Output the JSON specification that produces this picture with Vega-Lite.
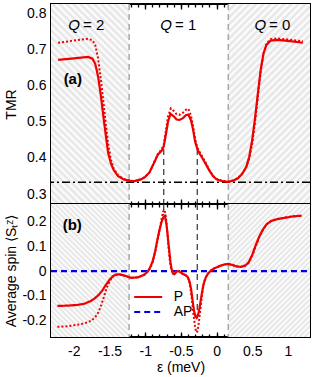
{
"$schema": "https://vega.github.io/schema/vega-lite/v6.json",
"padding": {"left": 3, "top": 2, "right": 2, "bottom": 2},
"spacing": 0,
"bounds": "flush",
"config": {
  "view": {"stroke": "black", "strokeWidth": 2},
  "font": "Liberation Sans",
  "axis": {"domain": false, "grid": false, "tickColor": "black", "tickWidth": 1.3, "labelFont": "Liberation Sans", "labelFontSize": 14, "labelColor": "black", "titleFont": "Liberation Sans", "titleFontSize": 14, "titleFontWeight": "normal", "titleColor": "black"},
  "text": {"font": "Liberation Sans", "color": "black"}
},
"datasets": {
  "tp": [{"e":-2.22,"v":0.671},{"e":-2.0,"v":0.675},{"e":-1.8,"v":0.679},{"e":-1.74,"v":0.674},{"e":-1.7,"v":0.66},{"e":-1.66,"v":0.625},{"e":-1.62,"v":0.57},{"e":-1.58,"v":0.505},{"e":-1.55,"v":0.46},{"e":-1.52,"v":0.415},{"e":-1.48,"v":0.385},{"e":-1.44,"v":0.366},{"e":-1.38,"v":0.35},{"e":-1.3,"v":0.341},{"e":-1.2,"v":0.336},{"e":-1.15,"v":0.336},{"e":-1.06,"v":0.341},{"e":-1.0,"v":0.348},{"e":-0.94,"v":0.36},{"e":-0.88,"v":0.385},{"e":-0.82,"v":0.41},{"e":-0.77,"v":0.42},{"e":-0.74,"v":0.432},{"e":-0.71,"v":0.465},{"e":-0.68,"v":0.5},{"e":-0.645,"v":0.522},{"e":-0.6,"v":0.515},{"e":-0.56,"v":0.506},{"e":-0.52,"v":0.505},{"e":-0.47,"v":0.51},{"e":-0.43,"v":0.518},{"e":-0.395,"v":0.52},{"e":-0.36,"v":0.505},{"e":-0.33,"v":0.48},{"e":-0.3,"v":0.445},{"e":-0.27,"v":0.425},{"e":-0.24,"v":0.413},{"e":-0.2,"v":0.4},{"e":-0.15,"v":0.383},{"e":-0.1,"v":0.365},{"e":-0.05,"v":0.35},{"e":0.0,"v":0.341},{"e":0.08,"v":0.336},{"e":0.16,"v":0.334},{"e":0.24,"v":0.338},{"e":0.3,"v":0.344},{"e":0.36,"v":0.356},{"e":0.42,"v":0.377},{"e":0.46,"v":0.405},{"e":0.5,"v":0.45},{"e":0.54,"v":0.51},{"e":0.58,"v":0.58},{"e":0.62,"v":0.645},{"e":0.66,"v":0.69},{"e":0.7,"v":0.712},{"e":0.76,"v":0.724},{"e":0.85,"v":0.726},{"e":1.0,"v":0.723},{"e":1.21,"v":0.718}],
  "td": [{"e":-2.22,"v":0.718},{"e":-2.0,"v":0.724},{"e":-1.8,"v":0.729},{"e":-1.74,"v":0.725},{"e":-1.7,"v":0.712},{"e":-1.66,"v":0.675},{"e":-1.62,"v":0.615},{"e":-1.58,"v":0.545},{"e":-1.55,"v":0.49},{"e":-1.52,"v":0.44},{"e":-1.48,"v":0.395},{"e":-1.44,"v":0.37},{"e":-1.38,"v":0.352},{"e":-1.3,"v":0.342},{"e":-1.2,"v":0.337},{"e":-1.15,"v":0.336},{"e":-1.06,"v":0.341},{"e":-1.0,"v":0.348},{"e":-0.94,"v":0.36},{"e":-0.88,"v":0.386},{"e":-0.82,"v":0.412},{"e":-0.77,"v":0.424},{"e":-0.74,"v":0.436},{"e":-0.71,"v":0.475},{"e":-0.68,"v":0.515},{"e":-0.64,"v":0.537},{"e":-0.6,"v":0.53},{"e":-0.56,"v":0.521},{"e":-0.52,"v":0.519},{"e":-0.47,"v":0.525},{"e":-0.43,"v":0.533},{"e":-0.395,"v":0.536},{"e":-0.36,"v":0.518},{"e":-0.33,"v":0.49},{"e":-0.3,"v":0.452},{"e":-0.27,"v":0.43},{"e":-0.24,"v":0.418},{"e":-0.2,"v":0.404},{"e":-0.15,"v":0.386},{"e":-0.1,"v":0.367},{"e":-0.05,"v":0.351},{"e":0.0,"v":0.342},{"e":0.08,"v":0.337},{"e":0.16,"v":0.335},{"e":0.24,"v":0.339},{"e":0.3,"v":0.345},{"e":0.36,"v":0.357},{"e":0.42,"v":0.376},{"e":0.46,"v":0.4},{"e":0.5,"v":0.44},{"e":0.54,"v":0.5},{"e":0.58,"v":0.57},{"e":0.62,"v":0.64},{"e":0.66,"v":0.69},{"e":0.7,"v":0.716},{"e":0.76,"v":0.728},{"e":0.85,"v":0.73},{"e":1.0,"v":0.727},{"e":1.21,"v":0.722}],
  "sp": [{"e":-2.23,"v":-0.14},{"e":-2.1,"v":-0.139},{"e":-1.95,"v":-0.136},{"e":-1.85,"v":-0.131},{"e":-1.76,"v":-0.12},{"e":-1.7,"v":-0.108},{"e":-1.65,"v":-0.095},{"e":-1.6,"v":-0.078},{"e":-1.55,"v":-0.055},{"e":-1.5,"v":-0.035},{"e":-1.45,"v":-0.02},{"e":-1.41,"v":-0.014},{"e":-1.36,"v":-0.013},{"e":-1.3,"v":-0.017},{"e":-1.2,"v":-0.027},{"e":-1.1,"v":-0.025},{"e":-1.01,"v":-0.014},{"e":-0.96,"v":0.0},{"e":-0.93,"v":0.015},{"e":-0.895,"v":0.04},{"e":-0.86,"v":0.08},{"e":-0.83,"v":0.125},{"e":-0.8,"v":0.165},{"e":-0.77,"v":0.198},{"e":-0.745,"v":0.217},{"e":-0.725,"v":0.222},{"e":-0.705,"v":0.195},{"e":-0.69,"v":0.16},{"e":-0.675,"v":0.115},{"e":-0.66,"v":0.075},{"e":-0.645,"v":0.035},{"e":-0.63,"v":0.008},{"e":-0.61,"v":-0.01},{"e":-0.59,"v":-0.012},{"e":-0.56,"v":-0.002},{"e":-0.53,"v":0.0},{"e":-0.5,"v":-0.006},{"e":-0.47,"v":-0.012},{"e":-0.43,"v":-0.016},{"e":-0.4,"v":-0.025},{"e":-0.375,"v":-0.045},{"e":-0.355,"v":-0.075},{"e":-0.335,"v":-0.12},{"e":-0.315,"v":-0.16},{"e":-0.295,"v":-0.183},{"e":-0.278,"v":-0.188},{"e":-0.26,"v":-0.178},{"e":-0.24,"v":-0.15},{"e":-0.22,"v":-0.115},{"e":-0.2,"v":-0.08},{"e":-0.18,"v":-0.05},{"e":-0.15,"v":-0.025},{"e":-0.12,"v":-0.01},{"e":-0.08,"v":0.002},{"e":-0.04,"v":0.01},{"e":0.04,"v":0.02},{"e":0.1,"v":0.026},{"e":0.16,"v":0.029},{"e":0.22,"v":0.025},{"e":0.28,"v":0.019},{"e":0.34,"v":0.017},{"e":0.4,"v":0.022},{"e":0.45,"v":0.035},{"e":0.5,"v":0.065},{"e":0.55,"v":0.105},{"e":0.6,"v":0.14},{"e":0.65,"v":0.167},{"e":0.7,"v":0.188},{"e":0.77,"v":0.202},{"e":0.85,"v":0.209},{"e":0.95,"v":0.214},{"e":1.05,"v":0.219},{"e":1.19,"v":0.223}],
  "sd": [{"e":-2.23,"v":-0.224},{"e":-2.1,"v":-0.222},{"e":-1.95,"v":-0.216},{"e":-1.85,"v":-0.21},{"e":-1.76,"v":-0.2},{"e":-1.7,"v":-0.185},{"e":-1.66,"v":-0.168},{"e":-1.62,"v":-0.14},{"e":-1.58,"v":-0.105},{"e":-1.54,"v":-0.068},{"e":-1.5,"v":-0.042},{"e":-1.46,"v":-0.022},{"e":-1.41,"v":-0.015},{"e":-1.36,"v":-0.014},{"e":-1.3,"v":-0.018},{"e":-1.2,"v":-0.027},{"e":-1.1,"v":-0.025},{"e":-1.01,"v":-0.014},{"e":-0.96,"v":0.0},{"e":-0.93,"v":0.012},{"e":-0.895,"v":0.035},{"e":-0.86,"v":0.075},{"e":-0.83,"v":0.12},{"e":-0.8,"v":0.165},{"e":-0.77,"v":0.21},{"e":-0.75,"v":0.238},{"e":-0.73,"v":0.247},{"e":-0.71,"v":0.22},{"e":-0.695,"v":0.175},{"e":-0.68,"v":0.12},{"e":-0.665,"v":0.07},{"e":-0.65,"v":0.03},{"e":-0.635,"v":0.008},{"e":-0.61,"v":-0.005},{"e":-0.58,"v":-0.003},{"e":-0.55,"v":0.003},{"e":-0.52,"v":0.0},{"e":-0.49,"v":-0.008},{"e":-0.45,"v":-0.014},{"e":-0.41,"v":-0.022},{"e":-0.385,"v":-0.04},{"e":-0.365,"v":-0.07},{"e":-0.345,"v":-0.115},{"e":-0.325,"v":-0.17},{"e":-0.305,"v":-0.215},{"e":-0.29,"v":-0.24},{"e":-0.278,"v":-0.247},{"e":-0.265,"v":-0.24},{"e":-0.245,"v":-0.2},{"e":-0.225,"v":-0.15},{"e":-0.205,"v":-0.1},{"e":-0.185,"v":-0.06},{"e":-0.16,"v":-0.03},{"e":-0.12,"v":-0.01},{"e":-0.08,"v":0.002},{"e":-0.04,"v":0.01},{"e":0.04,"v":0.02},{"e":0.1,"v":0.026},{"e":0.16,"v":0.029},{"e":0.22,"v":0.025},{"e":0.28,"v":0.019},{"e":0.34,"v":0.017},{"e":0.4,"v":0.022},{"e":0.45,"v":0.034},{"e":0.5,"v":0.062},{"e":0.55,"v":0.1},{"e":0.6,"v":0.137},{"e":0.65,"v":0.166},{"e":0.7,"v":0.188},{"e":0.77,"v":0.203},{"e":0.85,"v":0.21},{"e":0.95,"v":0.215},{"e":1.05,"v":0.22},{"e":1.19,"v":0.224}],
  "hl": [{"a":-2.32,"b":-1.225}],
  "hr": [{"a":0.165,"b":1.31}],
  "gv": [{"e":-1.225},{"e":0.165}]
},
"resolve": {"legend": {"color": "independent", "strokeDash": "independent"}},
"vconcat": [
{
  "width": 259, "height": 200,
  "resolve": {"axis": {"x": "independent", "y": "independent"}},
  "layer": [
    {"data": {"name": "hl"}, "mark": {"type": "rect", "strokeWidth": 0, "fill": {"gradient": "linear", "x1": 0, "y1": 1, "x2": 0.4705, "y2": -0.2065, "stops": [{"offset":0,"color":"#e3e3e3"},{"offset":0.0125,"color":"#fff"},{"offset":0.025,"color":"#e3e3e3"},{"offset":0.0375,"color":"#fff"},{"offset":0.05,"color":"#e3e3e3"},{"offset":0.0625,"color":"#fff"},{"offset":0.075,"color":"#e3e3e3"},{"offset":0.0875,"color":"#fff"},{"offset":0.1,"color":"#e3e3e3"},{"offset":0.1125,"color":"#fff"},{"offset":0.125,"color":"#e3e3e3"},{"offset":0.1375,"color":"#fff"},{"offset":0.15,"color":"#e3e3e3"},{"offset":0.1625,"color":"#fff"},{"offset":0.175,"color":"#e3e3e3"},{"offset":0.1875,"color":"#fff"},{"offset":0.2,"color":"#e3e3e3"},{"offset":0.2125,"color":"#fff"},{"offset":0.225,"color":"#e3e3e3"},{"offset":0.2375,"color":"#fff"},{"offset":0.25,"color":"#e3e3e3"},{"offset":0.2625,"color":"#fff"},{"offset":0.275,"color":"#e3e3e3"},{"offset":0.2875,"color":"#fff"},{"offset":0.3,"color":"#e3e3e3"},{"offset":0.3125,"color":"#fff"},{"offset":0.325,"color":"#e3e3e3"},{"offset":0.3375,"color":"#fff"},{"offset":0.35,"color":"#e3e3e3"},{"offset":0.3625,"color":"#fff"},{"offset":0.375,"color":"#e3e3e3"},{"offset":0.3875,"color":"#fff"},{"offset":0.4,"color":"#e3e3e3"},{"offset":0.4125,"color":"#fff"},{"offset":0.425,"color":"#e3e3e3"},{"offset":0.4375,"color":"#fff"},{"offset":0.45,"color":"#e3e3e3"},{"offset":0.4625,"color":"#fff"},{"offset":0.475,"color":"#e3e3e3"},{"offset":0.4875,"color":"#fff"},{"offset":0.5,"color":"#e3e3e3"},{"offset":0.5125,"color":"#fff"},{"offset":0.525,"color":"#e3e3e3"},{"offset":0.5375,"color":"#fff"},{"offset":0.55,"color":"#e3e3e3"},{"offset":0.5625,"color":"#fff"},{"offset":0.575,"color":"#e3e3e3"},{"offset":0.5875,"color":"#fff"},{"offset":0.6,"color":"#e3e3e3"},{"offset":0.6125,"color":"#fff"},{"offset":0.625,"color":"#e3e3e3"},{"offset":0.6375,"color":"#fff"},{"offset":0.65,"color":"#e3e3e3"},{"offset":0.6625,"color":"#fff"},{"offset":0.675,"color":"#e3e3e3"},{"offset":0.6875,"color":"#fff"},{"offset":0.7,"color":"#e3e3e3"},{"offset":0.7125,"color":"#fff"},{"offset":0.725,"color":"#e3e3e3"},{"offset":0.7375,"color":"#fff"},{"offset":0.75,"color":"#e3e3e3"},{"offset":0.7625,"color":"#fff"},{"offset":0.775,"color":"#e3e3e3"},{"offset":0.7875,"color":"#fff"},{"offset":0.8,"color":"#e3e3e3"},{"offset":0.8125,"color":"#fff"},{"offset":0.825,"color":"#e3e3e3"},{"offset":0.8375,"color":"#fff"},{"offset":0.85,"color":"#e3e3e3"},{"offset":0.8625,"color":"#fff"},{"offset":0.875,"color":"#e3e3e3"},{"offset":0.8875,"color":"#fff"},{"offset":0.9,"color":"#e3e3e3"},{"offset":0.9125,"color":"#fff"},{"offset":0.925,"color":"#e3e3e3"},{"offset":0.9375,"color":"#fff"},{"offset":0.95,"color":"#e3e3e3"},{"offset":0.9625,"color":"#fff"},{"offset":0.975,"color":"#e3e3e3"},{"offset":0.9875,"color":"#fff"},{"offset":1,"color":"#e3e3e3"}]}},
     "encoding": {"x": {"field": "a", "type": "quantitative", "scale": {"domain": [-2.32, 1.31], "nice": false, "zero": false}, "axis": null}, "x2": {"field": "b"}}},
    {"data": {"name": "hr"}, "mark": {"type": "rect", "strokeWidth": 0, "fill": {"gradient": "linear", "x1": 0, "y1": 0, "x2": 0.4949, "y2": 1.2071, "stops": [{"offset":0,"color":"#e3e3e3"},{"offset":0.0125,"color":"#fff"},{"offset":0.025,"color":"#e3e3e3"},{"offset":0.0375,"color":"#fff"},{"offset":0.05,"color":"#e3e3e3"},{"offset":0.0625,"color":"#fff"},{"offset":0.075,"color":"#e3e3e3"},{"offset":0.0875,"color":"#fff"},{"offset":0.1,"color":"#e3e3e3"},{"offset":0.1125,"color":"#fff"},{"offset":0.125,"color":"#e3e3e3"},{"offset":0.1375,"color":"#fff"},{"offset":0.15,"color":"#e3e3e3"},{"offset":0.1625,"color":"#fff"},{"offset":0.175,"color":"#e3e3e3"},{"offset":0.1875,"color":"#fff"},{"offset":0.2,"color":"#e3e3e3"},{"offset":0.2125,"color":"#fff"},{"offset":0.225,"color":"#e3e3e3"},{"offset":0.2375,"color":"#fff"},{"offset":0.25,"color":"#e3e3e3"},{"offset":0.2625,"color":"#fff"},{"offset":0.275,"color":"#e3e3e3"},{"offset":0.2875,"color":"#fff"},{"offset":0.3,"color":"#e3e3e3"},{"offset":0.3125,"color":"#fff"},{"offset":0.325,"color":"#e3e3e3"},{"offset":0.3375,"color":"#fff"},{"offset":0.35,"color":"#e3e3e3"},{"offset":0.3625,"color":"#fff"},{"offset":0.375,"color":"#e3e3e3"},{"offset":0.3875,"color":"#fff"},{"offset":0.4,"color":"#e3e3e3"},{"offset":0.4125,"color":"#fff"},{"offset":0.425,"color":"#e3e3e3"},{"offset":0.4375,"color":"#fff"},{"offset":0.45,"color":"#e3e3e3"},{"offset":0.4625,"color":"#fff"},{"offset":0.475,"color":"#e3e3e3"},{"offset":0.4875,"color":"#fff"},{"offset":0.5,"color":"#e3e3e3"},{"offset":0.5125,"color":"#fff"},{"offset":0.525,"color":"#e3e3e3"},{"offset":0.5375,"color":"#fff"},{"offset":0.55,"color":"#e3e3e3"},{"offset":0.5625,"color":"#fff"},{"offset":0.575,"color":"#e3e3e3"},{"offset":0.5875,"color":"#fff"},{"offset":0.6,"color":"#e3e3e3"},{"offset":0.6125,"color":"#fff"},{"offset":0.625,"color":"#e3e3e3"},{"offset":0.6375,"color":"#fff"},{"offset":0.65,"color":"#e3e3e3"},{"offset":0.6625,"color":"#fff"},{"offset":0.675,"color":"#e3e3e3"},{"offset":0.6875,"color":"#fff"},{"offset":0.7,"color":"#e3e3e3"},{"offset":0.7125,"color":"#fff"},{"offset":0.725,"color":"#e3e3e3"},{"offset":0.7375,"color":"#fff"},{"offset":0.75,"color":"#e3e3e3"},{"offset":0.7625,"color":"#fff"},{"offset":0.775,"color":"#e3e3e3"},{"offset":0.7875,"color":"#fff"},{"offset":0.8,"color":"#e3e3e3"},{"offset":0.8125,"color":"#fff"},{"offset":0.825,"color":"#e3e3e3"},{"offset":0.8375,"color":"#fff"},{"offset":0.85,"color":"#e3e3e3"},{"offset":0.8625,"color":"#fff"},{"offset":0.875,"color":"#e3e3e3"},{"offset":0.8875,"color":"#fff"},{"offset":0.9,"color":"#e3e3e3"},{"offset":0.9125,"color":"#fff"},{"offset":0.925,"color":"#e3e3e3"},{"offset":0.9375,"color":"#fff"},{"offset":0.95,"color":"#e3e3e3"},{"offset":0.9625,"color":"#fff"},{"offset":0.975,"color":"#e3e3e3"},{"offset":0.9875,"color":"#fff"},{"offset":1,"color":"#e3e3e3"}]}},
     "encoding": {"x": {"field": "a", "type": "quantitative", "scale": {"domain": [-2.32, 1.31], "nice": false, "zero": false}, "axis": null}, "x2": {"field": "b"}}},
    {"data": {"name": "gv"}, "mark": {"type": "rule", "color": "#a8a8a8", "strokeWidth": 1.5, "strokeDash": [6, 4]},
     "encoding": {"x": {"field": "e", "type": "quantitative", "scale": {"domain": [-2.32, 1.31], "nice": false, "zero": false}, "axis": null}}},
    {"data": {"values": [{"e": -0.74, "y1": 0.27, "y2": 0.432}, {"e": -0.27, "y1": 0.27, "y2": 0.425}]}, "mark": {"type": "rule", "color": "#333", "strokeWidth": 1.2, "strokeDash": [6, 4]},
     "encoding": {"x": {"field": "e", "type": "quantitative", "scale": {"domain": [-2.32, 1.31], "nice": false, "zero": false}, "axis": null}, "y": {"field": "y1", "type": "quantitative", "scale": {"domain": [0.273, 0.825], "nice": false, "zero": false}, "axis": null}, "y2": {"field": "y2"}}},
    {"data": {"values": [{"v": 0.3333}]}, "mark": {"type": "rule", "color": "black", "strokeWidth": 1.5, "strokeDash": [8, 3, 2, 3]},
     "encoding": {"y": {"field": "v", "type": "quantitative", "scale": {"domain": [0.273, 0.825], "nice": false, "zero": false}, "axis": null}}},
    {"data": {"name": "td"}, "mark": {"type": "line", "color": "#ee0000", "strokeWidth": 2, "strokeDash": [2, 2], "clip": true},
     "encoding": {"x": {"field": "e", "type": "quantitative", "scale": {"domain": [-2.32, 1.31], "nice": false, "zero": false}, "axis": {"orient": "bottom", "values": [-2.3,-2.2,-2.1,-2,-1.9,-1.8,-1.7,-1.6,-1.5,-1.4,-1.3,-1.2,-1.1,-1,-0.9,-0.8,-0.7,-0.6,-0.5,-0.4,-0.3,-0.2,-0.1,0,0.1,0.2,0.3,0.4,0.5,0.6,0.7,0.8,0.9,1,1.1,1.2,1.3], "labels": false, "tickSize": -3, "title": null}},
                  "y": {"field": "v", "type": "quantitative", "scale": {"domain": [0.273, 0.825], "nice": false, "zero": false}, "axis": {"orient": "left", "values": [0.3,0.35,0.4,0.45,0.5,0.55,0.6,0.65,0.7,0.75,0.8], "labels": false, "tickSize": -3, "title": null}}}},
    {"data": {"name": "tp"}, "mark": {"type": "line", "color": "#ee0000", "strokeWidth": 2.2, "clip": true},
     "encoding": {"x": {"field": "e", "type": "quantitative", "scale": {"domain": [-2.32, 1.31], "nice": false, "zero": false}, "axis": {"orient": "bottom", "values": [-2,-1.5,-1,-0.5,0,0.5,1], "labels": false, "tickSize": -5, "title": null}},
                  "y": {"field": "v", "type": "quantitative", "scale": {"domain": [0.273, 0.825], "nice": false, "zero": false}, "axis": {"orient": "left", "values": [0.3,0.4,0.5,0.6,0.7,0.8], "tickSize": -5, "labelPadding": 10, "labelExpr": "replace(format(datum.value, '~g'), '\u2212', '-')", "title": "TMR", "titleX": -35.5, "titleBaseline": "alphabetic"}}}},
    {"data": {"values": [{"e": -2.143, "v": 0.619, "t": "(a)"}]}, "mark": {"type": "text", "align": "left", "baseline": "middle", "fontSize": 15, "fontWeight": "bold"},
     "encoding": {"x": {"field": "e", "type": "quantitative", "scale": {"domain": [-2.32, 1.31], "nice": false, "zero": false}, "axis": null}, "y": {"field": "v", "type": "quantitative", "scale": {"domain": [0.273, 0.825], "nice": false, "zero": false}, "axis": null}, "text": {"field": "t"}}},
    {"data": {"values": [{"e": -1.914, "v": 0.767, "q": "Q"}, {"e": -0.624, "v": 0.767, "q": "Q"}, {"e": 0.694, "v": 0.767, "q": "Q"}]}, "mark": {"type": "text", "align": "right", "baseline": "middle", "fontSize": 15, "fontStyle": "italic"},
     "encoding": {"x": {"field": "e", "type": "quantitative", "scale": {"domain": [-2.32, 1.31], "nice": false, "zero": false}, "axis": {"orient": "top", "values": [-2,-1.5,-1,-0.5,0,0.5,1], "labels": false, "tickSize": -5, "title": null}},
                  "y": {"field": "v", "type": "quantitative", "scale": {"domain": [0.273, 0.825], "nice": false, "zero": false}, "axis": {"orient": "right", "values": [0.3,0.4,0.5,0.6,0.7,0.8], "labels": false, "tickSize": -5, "title": null}}, "text": {"field": "q"}}},
    {"data": {"values": [{"e": -1.914, "v": 0.767, "n": "= 2"}, {"e": -0.624, "v": 0.767, "n": "= 1"}, {"e": 0.694, "v": 0.767, "n": "= 0"}]}, "mark": {"type": "text", "align": "left", "baseline": "middle", "fontSize": 15, "dx": 3},
     "encoding": {"x": {"field": "e", "type": "quantitative", "scale": {"domain": [-2.32, 1.31], "nice": false, "zero": false}, "axis": {"orient": "top", "values": [-2.3,-2.2,-2.1,-2,-1.9,-1.8,-1.7,-1.6,-1.5,-1.4,-1.3,-1.2,-1.1,-1,-0.9,-0.8,-0.7,-0.6,-0.5,-0.4,-0.3,-0.2,-0.1,0,0.1,0.2,0.3,0.4,0.5,0.6,0.7,0.8,0.9,1,1.1,1.2,1.3], "labels": false, "tickSize": -3, "title": null}},
                  "y": {"field": "v", "type": "quantitative", "scale": {"domain": [0.273, 0.825], "nice": false, "zero": false}, "axis": {"orient": "right", "values": [0.3,0.35,0.4,0.45,0.5,0.55,0.6,0.65,0.7,0.75,0.8], "labels": false, "tickSize": -3, "title": null}}, "text": {"field": "n"}}}
  ]
},
{
  "width": 259, "height": 133,
  "resolve": {"axis": {"x": "independent", "y": "independent"}},
  "layer": [
    {"data": {"name": "hl"}, "mark": {"type": "rect", "strokeWidth": 0, "fill": {"gradient": "linear", "x1": 0, "y1": 1, "x2": 0.6923, "y2": -0.1805, "stops": [{"offset":0,"color":"#e3e3e3"},{"offset":0.0125,"color":"#fff"},{"offset":0.025,"color":"#e3e3e3"},{"offset":0.0375,"color":"#fff"},{"offset":0.05,"color":"#e3e3e3"},{"offset":0.0625,"color":"#fff"},{"offset":0.075,"color":"#e3e3e3"},{"offset":0.0875,"color":"#fff"},{"offset":0.1,"color":"#e3e3e3"},{"offset":0.1125,"color":"#fff"},{"offset":0.125,"color":"#e3e3e3"},{"offset":0.1375,"color":"#fff"},{"offset":0.15,"color":"#e3e3e3"},{"offset":0.1625,"color":"#fff"},{"offset":0.175,"color":"#e3e3e3"},{"offset":0.1875,"color":"#fff"},{"offset":0.2,"color":"#e3e3e3"},{"offset":0.2125,"color":"#fff"},{"offset":0.225,"color":"#e3e3e3"},{"offset":0.2375,"color":"#fff"},{"offset":0.25,"color":"#e3e3e3"},{"offset":0.2625,"color":"#fff"},{"offset":0.275,"color":"#e3e3e3"},{"offset":0.2875,"color":"#fff"},{"offset":0.3,"color":"#e3e3e3"},{"offset":0.3125,"color":"#fff"},{"offset":0.325,"color":"#e3e3e3"},{"offset":0.3375,"color":"#fff"},{"offset":0.35,"color":"#e3e3e3"},{"offset":0.3625,"color":"#fff"},{"offset":0.375,"color":"#e3e3e3"},{"offset":0.3875,"color":"#fff"},{"offset":0.4,"color":"#e3e3e3"},{"offset":0.4125,"color":"#fff"},{"offset":0.425,"color":"#e3e3e3"},{"offset":0.4375,"color":"#fff"},{"offset":0.45,"color":"#e3e3e3"},{"offset":0.4625,"color":"#fff"},{"offset":0.475,"color":"#e3e3e3"},{"offset":0.4875,"color":"#fff"},{"offset":0.5,"color":"#e3e3e3"},{"offset":0.5125,"color":"#fff"},{"offset":0.525,"color":"#e3e3e3"},{"offset":0.5375,"color":"#fff"},{"offset":0.55,"color":"#e3e3e3"},{"offset":0.5625,"color":"#fff"},{"offset":0.575,"color":"#e3e3e3"},{"offset":0.5875,"color":"#fff"},{"offset":0.6,"color":"#e3e3e3"},{"offset":0.6125,"color":"#fff"},{"offset":0.625,"color":"#e3e3e3"},{"offset":0.6375,"color":"#fff"},{"offset":0.65,"color":"#e3e3e3"},{"offset":0.6625,"color":"#fff"},{"offset":0.675,"color":"#e3e3e3"},{"offset":0.6875,"color":"#fff"},{"offset":0.7,"color":"#e3e3e3"},{"offset":0.7125,"color":"#fff"},{"offset":0.725,"color":"#e3e3e3"},{"offset":0.7375,"color":"#fff"},{"offset":0.75,"color":"#e3e3e3"},{"offset":0.7625,"color":"#fff"},{"offset":0.775,"color":"#e3e3e3"},{"offset":0.7875,"color":"#fff"},{"offset":0.8,"color":"#e3e3e3"},{"offset":0.8125,"color":"#fff"},{"offset":0.825,"color":"#e3e3e3"},{"offset":0.8375,"color":"#fff"},{"offset":0.85,"color":"#e3e3e3"},{"offset":0.8625,"color":"#fff"},{"offset":0.875,"color":"#e3e3e3"},{"offset":0.8875,"color":"#fff"},{"offset":0.9,"color":"#e3e3e3"},{"offset":0.9125,"color":"#fff"},{"offset":0.925,"color":"#e3e3e3"},{"offset":0.9375,"color":"#fff"},{"offset":0.95,"color":"#e3e3e3"},{"offset":0.9625,"color":"#fff"},{"offset":0.975,"color":"#e3e3e3"},{"offset":0.9875,"color":"#fff"},{"offset":1,"color":"#e3e3e3"}]}},
     "encoding": {"x": {"field": "a", "type": "quantitative", "scale": {"domain": [-2.32, 1.31], "nice": false, "zero": false}, "axis": null}, "x2": {"field": "b"}}},
    {"data": {"name": "hr"}, "mark": {"type": "rect", "strokeWidth": 0, "fill": {"gradient": "linear", "x1": 0, "y1": 0, "x2": 0.7222, "y2": 1.1713, "stops": [{"offset":0,"color":"#e3e3e3"},{"offset":0.0125,"color":"#fff"},{"offset":0.025,"color":"#e3e3e3"},{"offset":0.0375,"color":"#fff"},{"offset":0.05,"color":"#e3e3e3"},{"offset":0.0625,"color":"#fff"},{"offset":0.075,"color":"#e3e3e3"},{"offset":0.0875,"color":"#fff"},{"offset":0.1,"color":"#e3e3e3"},{"offset":0.1125,"color":"#fff"},{"offset":0.125,"color":"#e3e3e3"},{"offset":0.1375,"color":"#fff"},{"offset":0.15,"color":"#e3e3e3"},{"offset":0.1625,"color":"#fff"},{"offset":0.175,"color":"#e3e3e3"},{"offset":0.1875,"color":"#fff"},{"offset":0.2,"color":"#e3e3e3"},{"offset":0.2125,"color":"#fff"},{"offset":0.225,"color":"#e3e3e3"},{"offset":0.2375,"color":"#fff"},{"offset":0.25,"color":"#e3e3e3"},{"offset":0.2625,"color":"#fff"},{"offset":0.275,"color":"#e3e3e3"},{"offset":0.2875,"color":"#fff"},{"offset":0.3,"color":"#e3e3e3"},{"offset":0.3125,"color":"#fff"},{"offset":0.325,"color":"#e3e3e3"},{"offset":0.3375,"color":"#fff"},{"offset":0.35,"color":"#e3e3e3"},{"offset":0.3625,"color":"#fff"},{"offset":0.375,"color":"#e3e3e3"},{"offset":0.3875,"color":"#fff"},{"offset":0.4,"color":"#e3e3e3"},{"offset":0.4125,"color":"#fff"},{"offset":0.425,"color":"#e3e3e3"},{"offset":0.4375,"color":"#fff"},{"offset":0.45,"color":"#e3e3e3"},{"offset":0.4625,"color":"#fff"},{"offset":0.475,"color":"#e3e3e3"},{"offset":0.4875,"color":"#fff"},{"offset":0.5,"color":"#e3e3e3"},{"offset":0.5125,"color":"#fff"},{"offset":0.525,"color":"#e3e3e3"},{"offset":0.5375,"color":"#fff"},{"offset":0.55,"color":"#e3e3e3"},{"offset":0.5625,"color":"#fff"},{"offset":0.575,"color":"#e3e3e3"},{"offset":0.5875,"color":"#fff"},{"offset":0.6,"color":"#e3e3e3"},{"offset":0.6125,"color":"#fff"},{"offset":0.625,"color":"#e3e3e3"},{"offset":0.6375,"color":"#fff"},{"offset":0.65,"color":"#e3e3e3"},{"offset":0.6625,"color":"#fff"},{"offset":0.675,"color":"#e3e3e3"},{"offset":0.6875,"color":"#fff"},{"offset":0.7,"color":"#e3e3e3"},{"offset":0.7125,"color":"#fff"},{"offset":0.725,"color":"#e3e3e3"},{"offset":0.7375,"color":"#fff"},{"offset":0.75,"color":"#e3e3e3"},{"offset":0.7625,"color":"#fff"},{"offset":0.775,"color":"#e3e3e3"},{"offset":0.7875,"color":"#fff"},{"offset":0.8,"color":"#e3e3e3"},{"offset":0.8125,"color":"#fff"},{"offset":0.825,"color":"#e3e3e3"},{"offset":0.8375,"color":"#fff"},{"offset":0.85,"color":"#e3e3e3"},{"offset":0.8625,"color":"#fff"},{"offset":0.875,"color":"#e3e3e3"},{"offset":0.8875,"color":"#fff"},{"offset":0.9,"color":"#e3e3e3"},{"offset":0.9125,"color":"#fff"},{"offset":0.925,"color":"#e3e3e3"},{"offset":0.9375,"color":"#fff"},{"offset":0.95,"color":"#e3e3e3"},{"offset":0.9625,"color":"#fff"},{"offset":0.975,"color":"#e3e3e3"},{"offset":0.9875,"color":"#fff"},{"offset":1,"color":"#e3e3e3"}]}},
     "encoding": {"x": {"field": "a", "type": "quantitative", "scale": {"domain": [-2.32, 1.31], "nice": false, "zero": false}, "axis": null}, "x2": {"field": "b"}}},
    {"data": {"name": "gv"}, "mark": {"type": "rule", "color": "#a8a8a8", "strokeWidth": 1.5, "strokeDash": [6, 4]},
     "encoding": {"x": {"field": "e", "type": "quantitative", "scale": {"domain": [-2.32, 1.31], "nice": false, "zero": false}, "axis": null}}},
    {"data": {"values": [{"e": -0.74, "y1": 0.27, "y2": 0.225}, {"e": -0.27, "y1": 0.27, "y2": -0.19}]}, "mark": {"type": "rule", "color": "#333", "strokeWidth": 1.2, "strokeDash": [6, 4]},
     "encoding": {"x": {"field": "e", "type": "quantitative", "scale": {"domain": [-2.32, 1.31], "nice": false, "zero": false}, "axis": {"orient": "top", "values": [-2.3,-2.2,-2.1,-2,-1.9,-1.8,-1.7,-1.6,-1.5,-1.4,-1.3,-1.2,-1.1,-1,-0.9,-0.8,-0.7,-0.6,-0.5,-0.4,-0.3,-0.2,-0.1,0,0.1,0.2,0.3,0.4,0.5,0.6,0.7,0.8,0.9,1,1.1,1.2,1.3], "labels": false, "tickSize": -3, "title": null}},
                  "y": {"field": "y1", "type": "quantitative", "scale": {"domain": [-0.265, 0.27], "nice": false, "zero": false}, "axis": {"orient": "right", "values": [-0.25,-0.2,-0.15,-0.1,-0.05,0,0.05,0.1,0.15,0.2,0.25], "labels": false, "tickSize": -3, "title": null}}, "y2": {"field": "y2"}}},
    {"data": {"values": [{"e": -2.32, "v": 0}, {"e": 1.31, "v": 0}]}, "mark": {"type": "line", "strokeWidth": 2.2, "clip": true},
     "encoding": {"x": {"field": "e", "type": "quantitative", "scale": {"domain": [-2.32, 1.31], "nice": false, "zero": false}, "axis": {"orient": "top", "values": [-2,-1.5,-1,-0.5,0,0.5,1], "labels": false, "tickSize": -5, "title": null}},
                  "y": {"field": "v", "type": "quantitative", "scale": {"domain": [-0.265, 0.27], "nice": false, "zero": false}, "axis": {"orient": "right", "values": [-0.2,-0.1,0,0.1,0.2], "labels": false, "tickSize": -5, "title": null}},
                  "color": {"datum": "AP", "type": "nominal", "scale": {"domain": ["P", "AP"], "range": ["#ee0000", "#0000ee"]}, "legend": {"orient": "none", "legendX": 81.7, "legendY": 85.5, "title": null, "symbolType": "stroke", "symbolSize": 784, "symbolStrokeWidth": 2.2, "labelFontSize": 14, "labelFont": "Liberation Sans", "labelColor": "black", "labelOffset": 10, "clipHeight": 15, "rowPadding": 0, "padding": 0}},
                  "strokeDash": {"datum": "AP", "type": "nominal", "scale": {"domain": ["P", "AP"], "range": [[1, 0], [6, 4]]}, "legend": {"orient": "none", "legendX": 81.7, "legendY": 85.5, "title": null, "symbolType": "stroke", "symbolSize": 784, "symbolStrokeWidth": 2.2, "labelFontSize": 14, "labelFont": "Liberation Sans", "labelColor": "black", "labelOffset": 10, "clipHeight": 15, "rowPadding": 0, "padding": 0}}}},
    {"data": {"name": "sd"}, "mark": {"type": "line", "color": "#ee0000", "strokeWidth": 2, "strokeDash": [2, 2], "clip": true},
     "encoding": {"x": {"field": "e", "type": "quantitative", "scale": {"domain": [-2.32, 1.31], "nice": false, "zero": false}, "axis": {"orient": "bottom", "values": [-2.3,-2.2,-2.1,-2,-1.9,-1.8,-1.7,-1.6,-1.5,-1.4,-1.3,-1.2,-1.1,-1,-0.9,-0.8,-0.7,-0.6,-0.5,-0.4,-0.3,-0.2,-0.1,0,0.1,0.2,0.3,0.4,0.5,0.6,0.7,0.8,0.9,1,1.1,1.2,1.3], "labels": false, "tickSize": -3, "title": null}},
                  "y": {"field": "v", "type": "quantitative", "scale": {"domain": [-0.265, 0.27], "nice": false, "zero": false}, "axis": {"orient": "left", "values": [-0.25,-0.2,-0.15,-0.1,-0.05,0,0.05,0.1,0.15,0.2,0.25], "labels": false, "tickSize": -3, "title": null}}}},
    {"data": {"name": "sp"}, "mark": {"type": "line", "strokeWidth": 2.2, "clip": true},
     "encoding": {"x": {"field": "e", "type": "quantitative", "scale": {"domain": [-2.32, 1.31], "nice": false, "zero": false}, "axis": {"orient": "bottom", "values": [-2,-1.5,-1,-0.5,0,0.5,1], "tickSize": -5, "labelPadding": 12, "labelExpr": "replace(format(datum.value, '~g'), '\u2212', '-')", "title": "ε (meV)", "titleY": 34, "titleBaseline": "alphabetic"}},
                  "y": {"field": "v", "type": "quantitative", "scale": {"domain": [-0.265, 0.27], "nice": false, "zero": false}, "axis": {"orient": "left", "values": [-0.2,-0.1,0,0.1,0.2], "tickSize": -5, "labelPadding": 10, "labelExpr": "replace(format(datum.value, '~g'), '\u2212', '-')", "title": "Average spin ⟨Sₜᶻ⟩", "titleX": -35.5, "titleBaseline": "alphabetic"}},
                  "color": {"datum": "P", "type": "nominal", "scale": {"domain": ["P", "AP"], "range": ["#ee0000", "#0000ee"]}, "legend": {"orient": "none", "legendX": 81.7, "legendY": 85.5, "title": null, "symbolType": "stroke", "symbolSize": 784, "symbolStrokeWidth": 2.2, "labelFontSize": 14, "labelFont": "Liberation Sans", "labelColor": "black", "labelOffset": 10, "clipHeight": 15, "rowPadding": 0, "padding": 0}},
                  "strokeDash": {"datum": "P", "type": "nominal", "scale": {"domain": ["P", "AP"], "range": [[1, 0], [6, 4]]}, "legend": {"orient": "none", "legendX": 81.7, "legendY": 85.5, "title": null, "symbolType": "stroke", "symbolSize": 784, "symbolStrokeWidth": 2.2, "labelFontSize": 14, "labelFont": "Liberation Sans", "labelColor": "black", "labelOffset": 10, "clipHeight": 15, "rowPadding": 0, "padding": 0}}}},
    {"data": {"values": [{"e": -2.157, "v": 0.187, "t": "(b)"}]}, "mark": {"type": "text", "align": "left", "baseline": "middle", "fontSize": 15, "fontWeight": "bold"},
     "encoding": {"x": {"field": "e", "type": "quantitative", "scale": {"domain": [-2.32, 1.31], "nice": false, "zero": false}, "axis": null}, "y": {"field": "v", "type": "quantitative", "scale": {"domain": [-0.265, 0.27], "nice": false, "zero": false}, "axis": null}, "text": {"field": "t"}}}
  ]
}
]
}
